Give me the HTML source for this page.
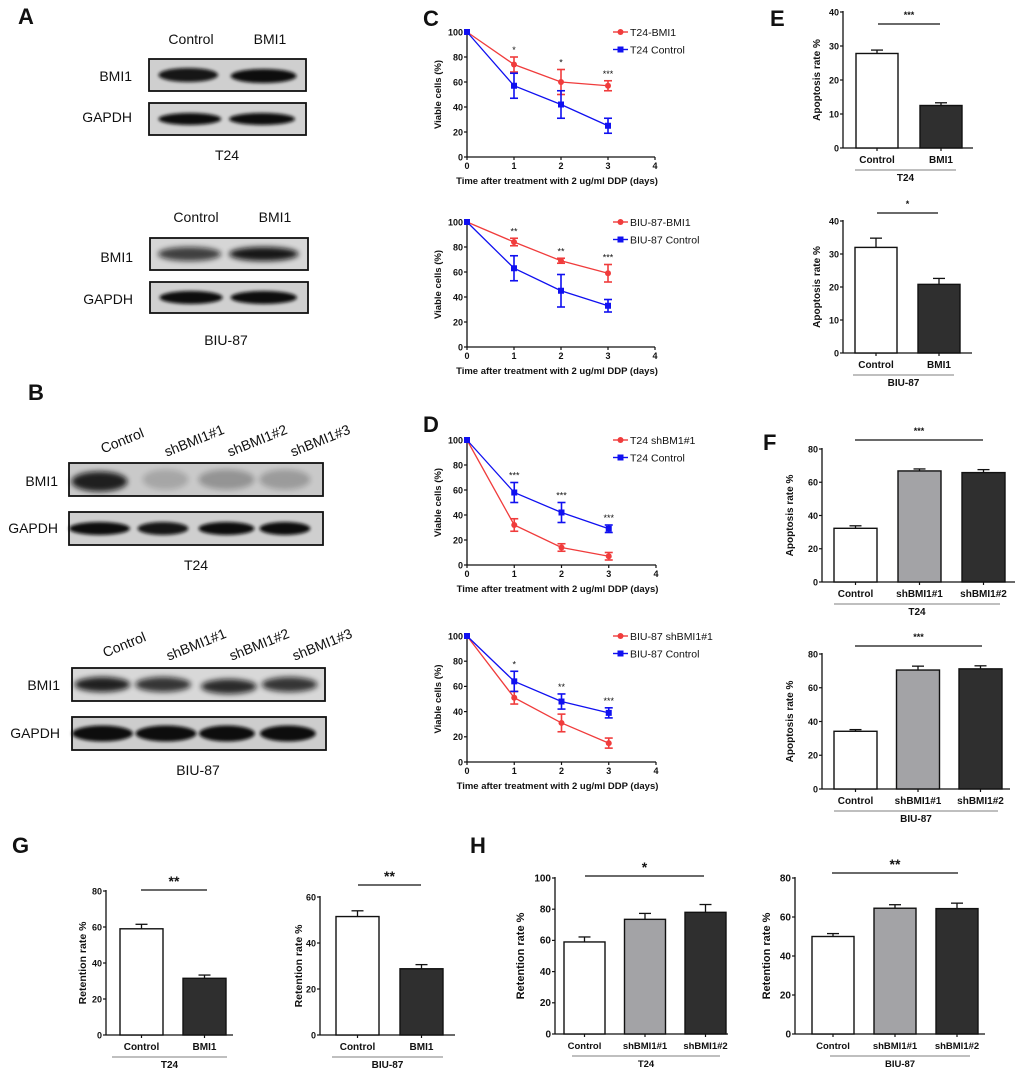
<!DOCTYPE html>
<html><head><meta charset="utf-8">
<style>
html,body{margin:0;padding:0;background:#fff;}
svg{display:block;font-family:"Liberation Sans",Arial,sans-serif;}
</style></head>
<body>
<svg id="fig" width="1020" height="1072" viewBox="0 0 1020 1072" xmlns="http://www.w3.org/2000/svg">
<defs>
<filter id="blur2" x="-20%" y="-60%" width="140%" height="220%"><feGaussianBlur stdDeviation="1.6"/></filter>
<filter id="blur3" x="-20%" y="-80%" width="140%" height="260%"><feGaussianBlur stdDeviation="2.6"/></filter>
</defs>
</svg>
<script>
// ---------- DATA ----------
const days = [0, 1, 2, 3];
const xTicks = [0, 1, 2, 3, 4];
const viableTicks = [0, 20, 40, 60, 80, 100];

const cTopRed = [100, 74, 60, 57];
const cTopRedErr = [0, 6, 10, 4];
const cTopBlue = [100, 57, 42, 25];
const cTopBlueErr = [0, 10, 11, 6];
const cTopStars = ['', '*', '*', '***'];

const cBotRed = [100, 84, 69, 59];
const cBotRedErr = [0, 3, 2, 7];
const cBotBlue = [100, 63, 45, 33];
const cBotBlueErr = [0, 10, 13, 5];
const cBotStars = ['', '**', '**', '***'];

const dTopRed = [100, 32, 14, 7];
const dTopRedErr = [0, 5, 3, 3];
const dTopBlue = [100, 58, 42, 29];
const dTopBlueErr = [0, 8, 8, 3];
const dTopStars = ['', '***', '***', '***'];

const dBotRed = [100, 51, 31, 15];
const dBotRedErr = [0, 5, 7, 4];
const dBotBlue = [100, 64, 48, 39];
const dBotBlueErr = [0, 8, 6, 4];
const dBotStars = ['', '*', '**', '***'];

const twoCats = ['Control', 'BMI1'];
const threeCats = ['Control', 'shBMI1#1', 'shBMI1#2'];

const eTopVals = [27.8, 12.5];
const eTopErr = [1.0, 0.8];
const eBotVals = [32, 20.8];
const eBotErr = [2.8, 1.8];
const apoTicks40 = [0, 10, 20, 30, 40];

const fTopVals = [32.3, 66.8, 65.8];
const fTopErr = [1.5, 1.2, 1.8];
const fBotVals = [34.2, 70.5, 71.2];
const fBotErr = [1.0, 2.3, 1.8];
const ticks80 = [0, 20, 40, 60, 80];

const g1Vals = [59, 31.5];
const g1Err = [2.5, 1.8];
const g2Vals = [51.5, 28.8];
const g2Err = [2.5, 1.8];
const ticks60 = [0, 20, 40, 60];

const h1Vals = [59, 73.5, 78];
const h1Err = [3.2, 3.8, 5];
const h2Vals = [50, 64.5, 64.3];
const h2Err = [1.5, 1.8, 2.8];
const ticks100 = [0, 20, 40, 60, 80, 100];

// ---------- HELPERS ----------
const svg = document.getElementById('fig');
const NS = 'http://www.w3.org/2000/svg';
function mk(tag, attrs, parent) {
  const e = document.createElementNS(NS, tag);
  for (const k in attrs) e.setAttribute(k, attrs[k]);
  (parent || svg).appendChild(e);
  return e;
}
function txt(str, x, y, size, weight, anchor, parent, extra) {
  const t = mk('text', Object.assign({x: x, y: y, 'font-size': size, 'font-weight': weight, 'text-anchor': anchor, fill: '#111'}, extra || {}), parent);
  t.textContent = str;
  return t;
}
function group(name) {
  const g = mk('g', {});
  
  
  return g;
}

// panel letters
[['A', 18, 24], ['B', 28, 400], ['C', 423, 26], ['D', 423, 432], ['E', 770, 26], ['F', 763, 450], ['G', 12, 853], ['H', 470, 853]].forEach(function (p) {
  const t = txt(p[0], p[1], p[2], 22, 'bold', 'start');
  
  
});

// ---------- LINE CHART ----------
function lineChart(name, o) {
  const g = group(name);
  const sx = function (d) { return o.x0 + d * (o.x1 - o.x0) / 4; };
  const sy = function (v) { return o.yBot - v * (o.yBot - o.yTop) / 100; };
  mk('line', {x1: o.x0, y1: o.yTop - 1, x2: o.x0, y2: o.yBot, stroke: '#111', 'stroke-width': 1.3}, g);
  mk('line', {x1: o.x0, y1: o.yBot, x2: o.x1, y2: o.yBot, stroke: '#111', 'stroke-width': 1.3}, g);
  viableTicks.forEach(function (v) {
    mk('line', {x1: o.x0 - 3, y1: sy(v), x2: o.x0, y2: sy(v), stroke: '#111', 'stroke-width': 1.2}, g);
    txt(String(v), o.x0 - 4, sy(v) + 3.3, 9, 'bold', 'end', g);
  });
  xTicks.forEach(function (d) {
    mk('line', {x1: sx(d), y1: o.yBot, x2: sx(d), y2: o.yBot + 3, stroke: '#111', 'stroke-width': 1.2}, g);
    txt(String(d), sx(d), o.yBot + 12, 9, 'bold', 'middle', g);
  });
  const yt = txt('Viable cells (%)', 0, 0, 9.5, 'bold', 'middle', g, {transform: 'translate(' + (o.x0 - 26) + ',' + ((o.yTop + o.yBot) / 2) + ') rotate(-90)'});
  
  const xt = txt('Time after treatment with 2 ug/ml DDP (days)', (o.x0 + o.x1) / 2 - 4, o.yBot + 27, 9.5, 'bold', 'middle', g);
  
  function series(vals, errs, col, square) {
    const pts = days.map(function (d, i) { return sx(d) + ',' + sy(vals[i]); }).join(' ');
    mk('polyline', {points: pts, fill: 'none', stroke: col, 'stroke-width': 1.3}, g);
    days.forEach(function (d, i) {
      const x = sx(d), y = sy(vals[i]);
      if (errs[i] > 0) {
        const a = sy(vals[i] + errs[i]), b = sy(vals[i] - errs[i]);
        mk('line', {x1: x, y1: a, x2: x, y2: b, stroke: col, 'stroke-width': 1.6}, g);
        mk('line', {x1: x - 4, y1: a, x2: x + 4, y2: a, stroke: col, 'stroke-width': 1.6}, g);
        mk('line', {x1: x - 4, y1: b, x2: x + 4, y2: b, stroke: col, 'stroke-width': 1.6}, g);
      }
      let m;
      if (square) m = mk('rect', {x: x - 3, y: y - 3, width: 6, height: 6, fill: col}, g);
      else m = mk('circle', {cx: x, cy: y, r: 3, fill: col}, g);
      
      
    });
  }
  series(o.red, o.redErr, '#f03c3c', false);
  series(o.blue, o.blueErr, '#1010f0', true);
  days.forEach(function (d, i) {
    if (!o.stars[i]) return;
    const top = Math.max(o.red[i] + o.redErr[i], o.blue[i] + o.blueErr[i]);
    const s = txt(o.stars[i], sx(d), sy(top) - 4, 9, 'normal', 'middle', g);
    
  });
  // legend
  const lx = o.x0 + 146;
  [[o.lab1, '#f03c3c', false], [o.lab2, '#1010f0', true]].forEach(function (L, k) {
    const yy = o.yTop + k * 17.5;
    const lg = mk('g', {}, g);
    
    
    mk('line', {x1: lx, y1: yy, x2: lx + 15, y2: yy, stroke: L[1], 'stroke-width': 1.4}, lg);
    if (L[2]) mk('rect', {x: lx + 4.5, y: yy - 3, width: 6, height: 6, fill: L[1]}, lg);
    else mk('circle', {cx: lx + 7.5, cy: yy, r: 3, fill: L[1]}, lg);
    txt(L[0], lx + 17, yy + 4, 10.5, 'normal', 'start', lg);
  });
}

lineChart('panel-c-t24-viability', {x0: 467, x1: 655, yTop: 32, yBot: 157, red: cTopRed, redErr: cTopRedErr, blue: cTopBlue, blueErr: cTopBlueErr, stars: cTopStars, lab1: 'T24-BMI1', lab2: 'T24 Control'});
lineChart('panel-c-biu87-viability', {x0: 467, x1: 655, yTop: 222, yBot: 347, red: cBotRed, redErr: cBotRedErr, blue: cBotBlue, blueErr: cBotBlueErr, stars: cBotStars, lab1: 'BIU-87-BMI1', lab2: 'BIU-87 Control'});
lineChart('panel-d-t24-viability', {x0: 467, x1: 656, yTop: 440, yBot: 565, red: dTopRed, redErr: dTopRedErr, blue: dTopBlue, blueErr: dTopBlueErr, stars: dTopStars, lab1: 'T24 shBM1#1', lab2: 'T24 Control'});
lineChart('panel-d-biu87-viability', {x0: 467, x1: 656, yTop: 636, yBot: 762, red: dBotRed, redErr: dBotRedErr, blue: dBotBlue, blueErr: dBotBlueErr, stars: dBotStars, lab1: 'BIU-87 shBMI1#1', lab2: 'BIU-87 Control'});

// ---------- BAR CHART ----------
const fills = ['#ffffff', '#a3a3a6', '#2f2f2f'];
function barChart(name, o) {
  const g = group(name);
  const n = o.vals.length;
  const sy = function (v) { return o.yBot - v * (o.yBot - o.yTop) / o.max; };
  const barX = function (i) { return o.bx0 + i * o.pitch; };
  mk('line', {x1: o.x0, y1: o.yTop - 1, x2: o.x0, y2: o.yBot, stroke: '#111', 'stroke-width': 1.3}, g);
  mk('line', {x1: o.x0, y1: o.yBot, x2: o.x1, y2: o.yBot, stroke: '#111', 'stroke-width': 1.3}, g);
  o.ticks.forEach(function (v) {
    mk('line', {x1: o.x0 - 3, y1: sy(v), x2: o.x0, y2: sy(v), stroke: '#111', 'stroke-width': 1.2}, g);
    txt(String(v), o.x0 - 4, sy(v) + 3.3, o.fs || 9, 'bold', 'end', g);
  });
  o.vals.forEach(function (v, i) {
    const x = barX(i), y = sy(v), cx = x + o.bw / 2;
    const ey = sy(v + o.errs[i]);
    mk('line', {x1: cx, y1: y, x2: cx, y2: ey, stroke: '#111', 'stroke-width': 1.3}, g);
    mk('line', {x1: cx - 6, y1: ey, x2: cx + 6, y2: ey, stroke: '#111', 'stroke-width': 1.3}, g);
    const r = mk('rect', {x: x, y: y, width: o.bw, height: o.yBot - y, fill: fills[n === 2 && i === 1 ? 2 : i], stroke: '#111', 'stroke-width': 1.4}, g);
    
    
    mk('line', {x1: cx, y1: o.yBot, x2: cx, y2: o.yBot + 3, stroke: '#111', 'stroke-width': 1.2}, g);
    txt(o.cats[i], cx, o.yBot + 15, o.cfs || 10, 'bold', 'middle', g);
  });
  mk('line', {x1: o.ulx0, y1: o.yBot + 22, x2: o.ulx1, y2: o.yBot + 22, stroke: '#999', 'stroke-width': 1.2}, g);
  txt(o.group, (o.ulx0 + o.ulx1) / 2, o.yBot + 33, o.cfs || 10, 'bold', 'middle', g);
  mk('line', {x1: o.sx0, y1: o.sigY, x2: o.sx1, y2: o.sigY, stroke: '#111', 'stroke-width': 1.3}, g);
  const s = txt(o.sig, (o.sx0 + o.sx1) / 2, o.sigY - (o.sfs ? 4 : 6), o.sfs || 9, 'bold', 'middle', g);
  
  const yt = txt(o.ylabel, 0, 0, o.yfs || 10, 'bold', 'middle', g, {transform: 'translate(' + o.ylx + ',' + ((o.yTop + o.yBot) / 2) + ') rotate(-90)'});
  
}

barChart('panel-e-t24-apoptosis', {x0: 843, x1: 973, yTop: 12, yBot: 148, max: 40, ticks: apoTicks40, vals: eTopVals, errs: eTopErr, cats: twoCats, group: 'T24', bx0: 856, bw: 42, pitch: 64, ulx0: 855, ulx1: 956, sx0: 878, sx1: 940, sigY: 24, sig: '***', ylabel: 'Apoptosis rate %', ylx: 820});
barChart('panel-e-biu87-apoptosis', {x0: 843, x1: 972, yTop: 221, yBot: 353, max: 40, ticks: apoTicks40, vals: eBotVals, errs: eBotErr, cats: twoCats, group: 'BIU-87', bx0: 855, bw: 42, pitch: 63, ulx0: 853, ulx1: 954, sx0: 877, sx1: 938, sigY: 213, sig: '*', ylabel: 'Apoptosis rate %', ylx: 820});
barChart('panel-f-t24-apoptosis', {x0: 822, x1: 1015, yTop: 449, yBot: 582, max: 80, ticks: ticks80, vals: fTopVals, errs: fTopErr, cats: threeCats, group: 'T24', bx0: 834, bw: 43, pitch: 64, ulx0: 834, ulx1: 1000, sx0: 855, sx1: 983, sigY: 440, sig: '***', ylabel: 'Apoptosis rate %', ylx: 793});
barChart('panel-f-biu87-apoptosis', {x0: 822, x1: 1010, yTop: 654, yBot: 789, max: 80, ticks: ticks80, vals: fBotVals, errs: fBotErr, cats: threeCats, group: 'BIU-87', bx0: 834, bw: 43, pitch: 62.5, ulx0: 834, ulx1: 998, sx0: 855, sx1: 982, sigY: 646, sig: '***', ylabel: 'Apoptosis rate %', ylx: 793});
barChart('panel-g-t24-retention', {x0: 106, x1: 233, yTop: 891, yBot: 1035, max: 80, ticks: ticks80, vals: g1Vals, errs: g1Err, cats: twoCats, group: 'T24', bx0: 120, bw: 43, pitch: 63, ulx0: 112, ulx1: 227, sx0: 141, sx1: 207, sigY: 890, sig: '**', sfs: 14, ylabel: 'Retention rate %', ylx: 86, yfs: 10.5});
barChart('panel-g-biu87-retention', {x0: 320, x1: 455, yTop: 897, yBot: 1035, max: 60, ticks: ticks60, vals: g2Vals, errs: g2Err, cats: twoCats, group: 'BIU-87', bx0: 336, bw: 43, pitch: 64, ulx0: 332, ulx1: 443, sx0: 358, sx1: 421, sigY: 885, sig: '**', sfs: 14, ylabel: 'Retention rate %', ylx: 302, yfs: 10.5});
barChart('panel-h-t24-retention', {x0: 555, x1: 728, yTop: 878, yBot: 1034, max: 100, ticks: ticks100, vals: h1Vals, errs: h1Err, cats: threeCats, group: 'T24', bx0: 564, bw: 41, pitch: 60.5, ulx0: 572, ulx1: 720, sx0: 585, sx1: 704, sigY: 876, sig: '*', sfs: 14, ylabel: 'Retention rate %', ylx: 524, yfs: 11, fs: 10, cfs: 9.5});
barChart('panel-h-biu87-retention', {x0: 795, x1: 985, yTop: 878, yBot: 1034, max: 80, ticks: ticks80, vals: h2Vals, errs: h2Err, cats: threeCats, group: 'BIU-87', bx0: 812, bw: 42, pitch: 62, ulx0: 830, ulx1: 970, sx0: 832, sx1: 958, sigY: 873, sig: '**', sfs: 14, ylabel: 'Retention rate %', ylx: 770, yfs: 11, fs: 10, cfs: 9.5});

// ---------- WESTERN BLOTS ----------
function blot(name, x, y, w, h, lanes, bg, bandH, blurId) {
  const g = group(name);
  mk('rect', {x: x, y: y, width: w, height: h, fill: bg, stroke: '#111', 'stroke-width': 1.8}, g);
  lanes.forEach(function (L) {
    const b = mk('ellipse', {cx: x + L[0] * w, cy: y + h / 2 + (L[3] || 0), rx: L[1] * w / 2, ry: bandH / 2, fill: '#0a0a0a', opacity: L[2], filter: 'url(#' + blurId + ')'}, g);
    
  });
  return g;
}
function rowLabel(s, x, y, name) {
  const t = txt(s, x, y, 14, 'normal', 'end');
  
  
}
function centerLabel(s, x, y, name) {
  const t = txt(s, x, y, 14, 'normal', 'middle');
  
  
}
// A - T24
centerLabel('Control', 191, 44, 'lane-label-control');
centerLabel('BMI1', 270, 44, 'lane-label-bmi1');
blot('blot-a-t24-bmi1', 149, 59, 157, 32, [[0.25, 0.38, 0.95], [0.73, 0.42, 1, 1]], '#cfcfcf', 14, 'blur2');
blot('blot-a-t24-gapdh', 149, 103, 157, 32, [[0.26, 0.40, 1], [0.72, 0.42, 1]], '#d2d2d2', 12, 'blur2');
rowLabel('BMI1', 132, 81, 'row-label-bmi1');
rowLabel('GAPDH', 132, 122, 'row-label-gapdh');
centerLabel('T24', 227, 160, 'cell-line-label');
// A - BIU-87
centerLabel('Control', 196, 222, 'lane-label-control');
centerLabel('BMI1', 275, 222, 'lane-label-bmi1');
blot('blot-a-biu87-bmi1', 150, 238, 158, 32, [[0.25, 0.40, 0.75], [0.72, 0.44, 0.95]], '#d6d6d6', 14, 'blur3');
blot('blot-a-biu87-gapdh', 150, 282, 158, 31, [[0.26, 0.40, 1], [0.72, 0.42, 1]], '#d0d0d0', 13, 'blur2');
rowLabel('BMI1', 133, 262, 'row-label-bmi1');
rowLabel('GAPDH', 133, 304, 'row-label-gapdh');
centerLabel('BIU-87', 226, 345, 'cell-line-label');
// B labels
function rotLabels(xs, y, cats) {
  cats.forEach(function (c, i) {
    const t = txt(c, xs[i], y, 14, 'normal', 'middle', svg, {transform: 'rotate(-22 ' + xs[i] + ' ' + y + ')'});
    
    
  });
}
const bCats = ['Control', 'shBMI1#1', 'shBMI1#2', 'shBMI1#3'];
rotLabels([124, 196, 259, 322], 445, bCats);
blot('blot-b-t24-bmi1', 69, 463, 254, 33, [[0.12, 0.22, 0.9, 2], [0.38, 0.18, 0.18], [0.62, 0.22, 0.28], [0.85, 0.2, 0.24]], '#c9c9c9', 20, 'blur3');
blot('blot-b-t24-gapdh', 69, 512, 254, 33, [[0.12, 0.24, 1], [0.37, 0.2, 0.95], [0.62, 0.22, 1], [0.85, 0.2, 1]], '#cfcfcf', 13, 'blur2');
rowLabel('BMI1', 58, 486, 'row-label-bmi1');
rowLabel('GAPDH', 58, 533, 'row-label-gapdh');
centerLabel('T24', 196, 570, 'cell-line-label');
rotLabels([126, 198, 261, 324], 649, bCats);
blot('blot-b-biu87-bmi1', 72, 668, 253, 33, [[0.12, 0.22, 0.9], [0.36, 0.22, 0.8], [0.62, 0.22, 0.85, 2], [0.86, 0.22, 0.8]], '#d8d8d8', 15, 'blur3');
blot('blot-b-biu87-gapdh', 72, 717, 254, 33, [[0.12, 0.24, 1], [0.37, 0.24, 1], [0.61, 0.22, 1], [0.85, 0.22, 1]], '#cdcdcd', 16, 'blur2');
rowLabel('BMI1', 60, 690, 'row-label-bmi1');
rowLabel('GAPDH', 60, 738, 'row-label-gapdh');
centerLabel('BIU-87', 198, 775, 'cell-line-label');
</script>
</body></html>
